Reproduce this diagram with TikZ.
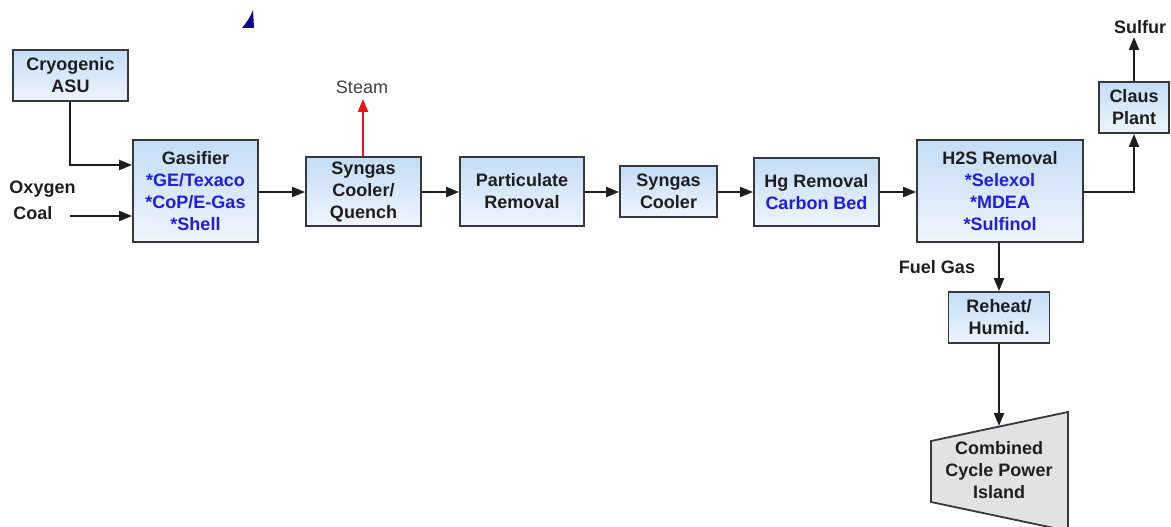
\documentclass[tikz,border=0pt]{standalone}
\usepackage{fontspec}
\setmainfont{Liberation Sans}
\usetikzlibrary{arrows.meta,calc}

\definecolor{boxtop}{RGB}{196,221,246}
\definecolor{boxbot}{RGB}{238,245,253}
\definecolor{edge}{RGB}{55,55,60}
\definecolor{ink}{RGB}{30,30,30}
\definecolor{optblue}{RGB}{30,30,225}
\definecolor{steamred}{RGB}{235,20,20}
\definecolor{islandgray}{RGB}{226,226,226}
\definecolor{navymark}{RGB}{10,10,140}

\tikzset{
  unit/.style={draw=edge, line width=1.8pt, rectangle, inner sep=0pt,
    top color=boxtop, bottom color=boxbot, align=center, text=ink,
    font=\fontsize{18}{22}\selectfont\bfseries},
  flow/.style={draw=ink, line width=2.2pt, -{Triangle[length=13pt,width=10pt]}},
  steamflow/.style={draw=steamred, line width=2.2pt, -{Triangle[length=13pt,width=10pt]}},
  tag/.style={text=ink, inner sep=0pt, font=\fontsize{18}{22}\selectfont\bfseries}
}

\begin{document}
\begin{tikzpicture}[x=1pt,y=-1pt]
\useasboundingbox (0,0) rectangle (1171,527);

% small mark near the top
\fill[navymark] (242,28) .. controls (247,22) and (251,16) .. (253,10) -- (254,28) -- cycle;

% process units
\node[unit, minimum width=115pt, minimum height=51pt] (asu) at (70.5,75.5) {Cryogenic\\ASU};
\node[unit, minimum width=125pt, minimum height=102pt] (gas) at (195.5,191)
  {Gasifier\\\textcolor{optblue}{*GE/Texaco}\\\textcolor{optblue}{*CoP/E-Gas}\\\textcolor{optblue}{*Shell}};
\node[unit, minimum width=115pt, minimum height=69pt] (sgq) at (363.5,191.5) {Syngas\\Cooler/\\Quench};
\node[unit, minimum width=124pt, minimum height=69pt] (part) at (522,191.5) {Particulate\\Removal};
\node[unit, minimum width=97pt, minimum height=51pt] (sgc) at (668.5,191.5) {Syngas\\Cooler};
\node[unit, minimum width=125pt, minimum height=68pt] (hg) at (816.5,192) {Hg Removal\\\textcolor{optblue}{Carbon Bed}};
\node[unit, minimum width=166pt, minimum height=102pt] (h2s) at (1000,191)
  {H2S Removal\\\textcolor{optblue}{*Selexol}\\\textcolor{optblue}{*MDEA}\\\textcolor{optblue}{*Sulfinol}};
\node[unit, minimum width=70pt, minimum height=51pt] (claus) at (1134,107.5) {Claus\\Plant};
\node[unit, minimum width=101pt, minimum height=51pt] (reheat) at (999,317.5) {Reheat/\\Humid.};

% combined cycle power island (trapezoid)
\coordinate (ccTL) at (931,441);
\coordinate (ccTR) at (1068,412);
\coordinate (ccBR) at (1068,531);
\coordinate (ccBL) at (931,502);
\draw[draw=edge, line width=1.8pt, fill=islandgray] (ccTL) -- (ccTR) -- (ccBR) -- (ccBL) -- cycle;
\node[tag, align=center] (cc) at (999,470) {Combined\\Cycle Power\\Island};
\coordinate (ccIn) at (999,426);

% stream labels
\node[tag] (oxy) at (42.5,189) {Oxygen};
\node[tag] (coal) at (33,213) {Coal};
\node[text=ink!85, inner sep=0pt, font=\fontsize{18}{22}\selectfont] (steam) at (362,87) {Steam};
\node[tag] (sulfur) at (1140,27) {Sulfur};
\node[tag] (fuel) at (937,267) {Fuel Gas};

% free ends of streams
\coordinate (coalIn) at (70,216);
\coordinate (steamOut) at (363,99);
\coordinate (sulfurOut) at (1134,37);

% connectors
\draw[flow] (asu.south -| 70,0) |- (gas.west |- 0,165);
\draw[flow] (coalIn) -- (gas.west |- coalIn);
\draw[flow] (gas.east |- 0,192) -- (sgq.west |- 0,192);
\draw[steamflow] (sgq.north -| steamOut) -- (steamOut);
\draw[flow] (sgq.east |- 0,192) -- (part.west |- 0,192);
\draw[flow] (part.east |- 0,192) -- (sgc.west |- 0,192);
\draw[flow] (sgc.east |- 0,192) -- (hg.west |- 0,192);
\draw[flow] (hg.east |- 0,192) -- (h2s.west |- 0,192);
\draw[flow] (h2s.east |- 0,192) -| (claus.south);
\draw[flow] (claus.north) -- (sulfurOut);
\draw[flow] (h2s.south -| reheat.north) -- (reheat.north);
\draw[flow] (reheat.south) -- (ccIn);
\end{tikzpicture}
\end{document}
